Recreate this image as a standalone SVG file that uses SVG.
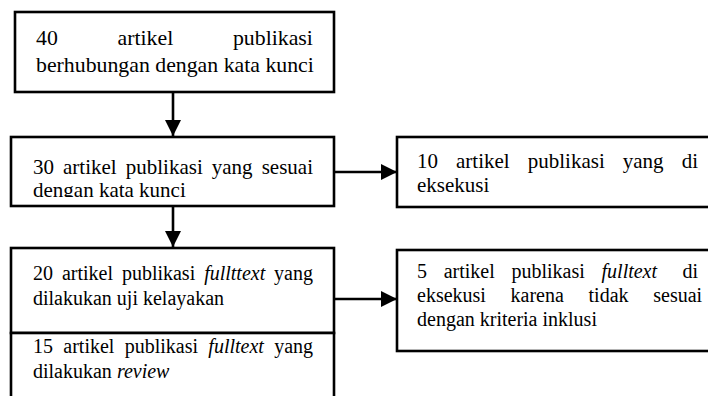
<svg xmlns="http://www.w3.org/2000/svg" width="708" height="396" viewBox="0 0 708 396">
<style>
.box{fill:#fff;stroke:#000;stroke-width:2.6}
.t{font-family:"Liberation Serif","Times New Roman",serif;font-size:21px;fill:#000}
.s{font-size:20px}
.l{font-size:21.8px}
.i{font-style:italic}
.c{stroke:#000;stroke-width:2.6;fill:none}
</style>
<defs>
<marker id="ah" markerUnits="userSpaceOnUse" markerWidth="16" markerHeight="16" refX="16" refY="8" orient="auto">
<path d="M0,0 L16,8 L0,16 z" fill="#000"/>
</marker>
<clipPath id="clip2"><rect x="11" y="137" width="323" height="60"/></clipPath>
</defs>
<rect width="708" height="396" fill="#fff"/>
<g id="connectors">
<line class="c" x1="173" y1="92" x2="173" y2="136" marker-end="url(#ah)"/>
<line class="c" x1="173" y1="206" x2="173" y2="247" marker-end="url(#ah)"/>
<line class="c" x1="334" y1="172" x2="397" y2="172" marker-end="url(#ah)"/>
<line class="c" x1="334" y1="299" x2="397" y2="299" marker-end="url(#ah)"/>
</g>
<g id="n1">
<rect class="box" x="15" y="12" width="319" height="80"/>
<text class="t l" x="36" y="45" word-spacing="54.3">40 artikel publikasi</text>
<text class="t l" x="36" y="72">berhubungan dengan kata kunci</text>
</g>
<g id="n2">
<rect class="box" x="11" y="137" width="323" height="69"/>
<g clip-path="url(#clip2)">
<text class="t" x="33" y="174" word-spacing="3.8">30 artikel publikasi yang sesuai</text>
<text class="t" x="33" y="197">dengan kata kunci</text>
</g>
</g>
<g id="n3">
<rect class="box" x="11" y="248" width="323" height="85"/>
<text class="t s" x="33" y="280" word-spacing="3.9">20 artikel publikasi <tspan class="i">fullttext</tspan> yang</text>
<text class="t s" x="33" y="305">dilakukan uji kelayakan</text>
</g>
<g id="n4">
<rect class="box" x="11" y="333" width="323" height="80"/>
<text class="t s" x="33" y="353" word-spacing="5.3">15 artikel publikasi <tspan class="i">fulltext</tspan> yang</text>
<text class="t s" x="33" y="378">dilakukan <tspan class="i">review</tspan></text>
</g>
<g id="n5">
<rect class="box" x="397" y="137" width="320" height="70"/>
<text class="t" x="417" y="168" word-spacing="12.8">10 artikel publikasi yang di</text>
<text class="t" x="417" y="192">eksekusi</text>
</g>
<g id="n6">
<rect class="box" x="397" y="250" width="320" height="101"/>
<text class="t s" x="417" y="278" word-spacing="11.7">5 artikel publikasi <tspan class="i">fulltext</tspan></text>
<text class="t s" x="698" y="278" text-anchor="end">di</text>
<text class="t s" x="417" y="302" word-spacing="19.7">eksekusi karena tidak sesuai</text>
<text class="t s" x="417" y="326">dengan kriteria inklusi</text>
</g>
</svg>
